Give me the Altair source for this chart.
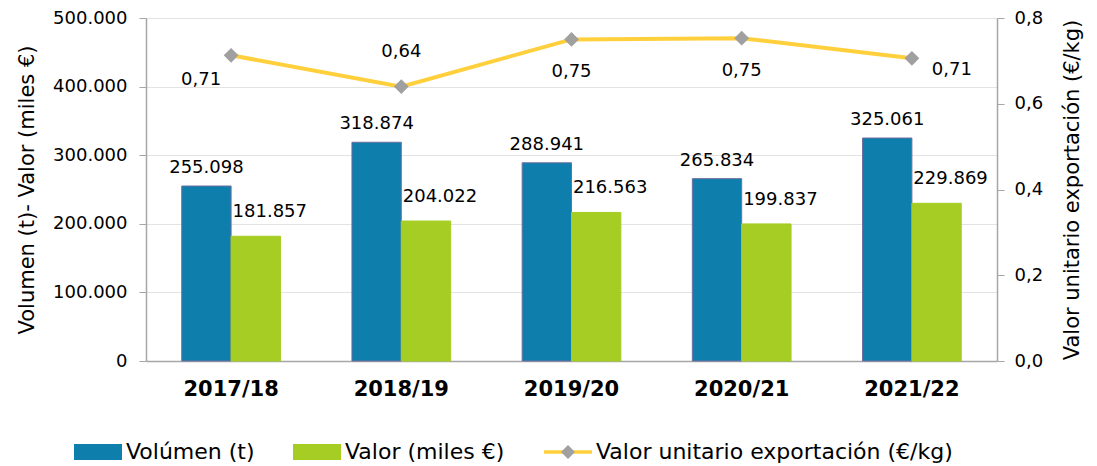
import altair as alt
import pandas as pd

campanas = ["2017/18", "2018/19", "2019/20", "2020/21", "2021/22"]
volumen = [255098, 318874, 288941, 265834, 325061]
valor = [181857, 204022, 216563, 199837, 229869]
unitario = [0.713, 0.640, 0.750, 0.753, 0.706]

s_vol = "Volúmen (t)"
s_val = "Valor (miles €)"
s_uni = "Valor unitario exportación (€/kg)"
s_mark = s_uni + " "

FONT = "DejaVu Sans"
BLUE = "#0E7FAD"
GREEN = "#A5CD24"
YELLOW = "#FFD03C"
GRAY = "#A0A0A0"

df_bars = pd.DataFrame(
    [{"camp": c, "serie": s_vol, "v": v} for c, v in zip(campanas, volumen)]
    + [{"camp": c, "serie": s_val, "v": v} for c, v in zip(campanas, valor)]
)
df_line = pd.DataFrame({"camp": campanas, "u": unitario, "serie": s_uni, "marca": s_mark})

LEG_Y = 410

xenc = alt.X(
    "camp:N",
    sort=campanas,
    title=None,
    scale=alt.Scale(paddingInner=0.42, paddingOuter=0.21),
    axis=alt.Axis(
        labelAngle=0, labelFont=FONT, labelFontWeight="bold", labelFontSize=21,
        labelColor="#000", labelPadding=17, ticks=False, domainColor="#a6a6a6",
        domainWidth=1.5,
    ),
)
xoff = alt.XOffset("serie:N", sort=[s_vol, s_val], scale=alt.Scale(paddingInner=0, paddingOuter=0))
ybar = alt.Y(
    "v:Q",
    scale=alt.Scale(domain=[0, 500000], nice=False),
    title="Volumen (t)- Valor (miles €)",
    axis=alt.Axis(
        format=",.0f", values=[0, 100000, 200000, 300000, 400000, 500000],
        labelFont=FONT, labelFontSize=18, labelColor="#000", labelPadding=12,
        tickSize=7, tickColor="#a6a6a6", domainColor="#a6a6a6", domainWidth=1.5,
        gridColor="#e3e3e3", grid=True, titleFont=FONT, titleFontSize=21,
        titleFontWeight="normal", titleColor="#000", titlePadding=15,
    ),
)

bar_base = alt.Chart(df_bars)
bars = bar_base.mark_bar(strokeWidth=1).encode(
    x=xenc,
    xOffset=xoff,
    y=ybar,
    color=alt.Color(
        "serie:N",
        sort=[s_vol, s_val],
        scale=alt.Scale(domain=[s_vol, s_val], range=[BLUE, GREEN]),
        legend=alt.Legend(
            title=None, orient="none", legendX=-72, legendY=LEG_Y, direction="horizontal",
            symbolType="M-1,-0.33H1V0.33H-1Z", symbolSize=2304, symbolStrokeWidth=0,
            labelFont=FONT, labelFontSize=22, labelColor="#000", columnPadding=38,
            labelOffset=4, labelLimit=0,
        ),
    ),
    stroke=alt.condition(alt.datum.serie == s_vol, alt.value("#6f6f9f"), alt.value(GREEN)),
)
lab_vol = bar_base.transform_filter(alt.datum.serie == s_vol).mark_text(
    font=FONT, fontSize=18, color="#000", dy=-18
).encode(x=xenc, xOffset=xoff, y=ybar, text=alt.Text("v:Q", format=",.0f"))
lab_val = bar_base.transform_filter(alt.datum.serie == s_val).mark_text(
    font=FONT, fontSize=18, color="#000", dy=-24, dx=14
).encode(x=xenc, xOffset=xoff, y=ybar, text=alt.Text("v:Q", format=",.0f"))

yline = alt.Y(
    "u:Q",
    scale=alt.Scale(domain=[0, 0.8], nice=False),
    title=s_uni,
    axis=alt.Axis(
        orient="right", format=".1f", values=[0, 0.2, 0.4, 0.6, 0.8], grid=False,
        labelFont=FONT, labelFontSize=18, labelColor="#000", labelPadding=10,
        tickSize=7, tickColor="#a6a6a6", domainColor="#a6a6a6", domainWidth=1.5,
        titleFont=FONT, titleFontSize=21, titleFontWeight="normal", titleColor="#000",
        titlePadding=19, titleAngle=270, titleBaseline="top",
    ),
)
line_base = alt.Chart(df_line)
line = line_base.mark_line(strokeWidth=4).encode(
    x=alt.X("camp:N", sort=campanas),
    y=yline,
    color=alt.Color(
        "serie:N",
        scale=alt.Scale(domain=[s_uni], range=[YELLOW]),
        legend=alt.Legend(
            title=None, orient="none", legendX=398, legendY=LEG_Y, direction="horizontal",
            symbolType="M-1,-0.07H1V0.07H-1Z", symbolFillColor=YELLOW,
            symbolSize=2304, symbolStrokeWidth=0, labelFont=FONT, labelFontSize=22,
            labelColor="#000", labelOffset=4, labelLimit=0,
        ),
    ),
)
pts = line_base.mark_point(shape="diamond", filled=True, size=220, opacity=1).encode(
    x=alt.X("camp:N", sort=campanas),
    y=yline,
    fill=alt.Fill(
        "marca:N",
        scale=alt.Scale(domain=[s_mark], range=[GRAY]),
        legend=alt.Legend(
            title=None, orient="none", legendX=398, legendY=LEG_Y, direction="horizontal",
            symbolType="M0,-0.29L0.29,0L0,0.29L-0.29,0Z", symbolSize=2304,
            symbolStrokeWidth=0, symbolFillColor=GRAY, labelFont=FONT, labelFontSize=22,
            labelColor="#000", labelOffset=4, labelLimit=0, labelOpacity=0,
        ),
    ),
)


def ulab(camp, dx, dy):
    return line_base.transform_filter(alt.datum.camp == camp).mark_text(
        font=FONT, fontSize=18, color="#000", dx=dx, dy=dy
    ).encode(x=alt.X("camp:N", sort=campanas), y=yline, text=alt.Text("u:Q", format=".2f"))


ulabels = [
    ulab(campanas[0], -30, 25),
    ulab(campanas[1], 0, -35),
    ulab(campanas[2], 0, 33),
    ulab(campanas[3], 0, 33),
    ulab(campanas[4], 40, 12),
]

left = alt.layer(bars, lab_vol, lab_val)
right = alt.layer(line, pts, *ulabels)

chart = (
    alt.layer(left, right)
    .resolve_scale(y="independent", color="independent", fill="independent")
    .properties(
        width=851, height=343,
        autosize=alt.AutoSizeParams(type="none"),
        padding={"left": 138, "top": 10, "right": 92, "bottom": 104},
    )
    .configure_view(stroke=None)
)

chart.save(
    "out.html",
    embed_options={
        "renderer": "svg",
        "actions": False,
        "formatLocale": {
            "decimal": ",",
            "thousands": ".",
            "grouping": [3],
            "currency": ["", " €"],
        },
    },
)
